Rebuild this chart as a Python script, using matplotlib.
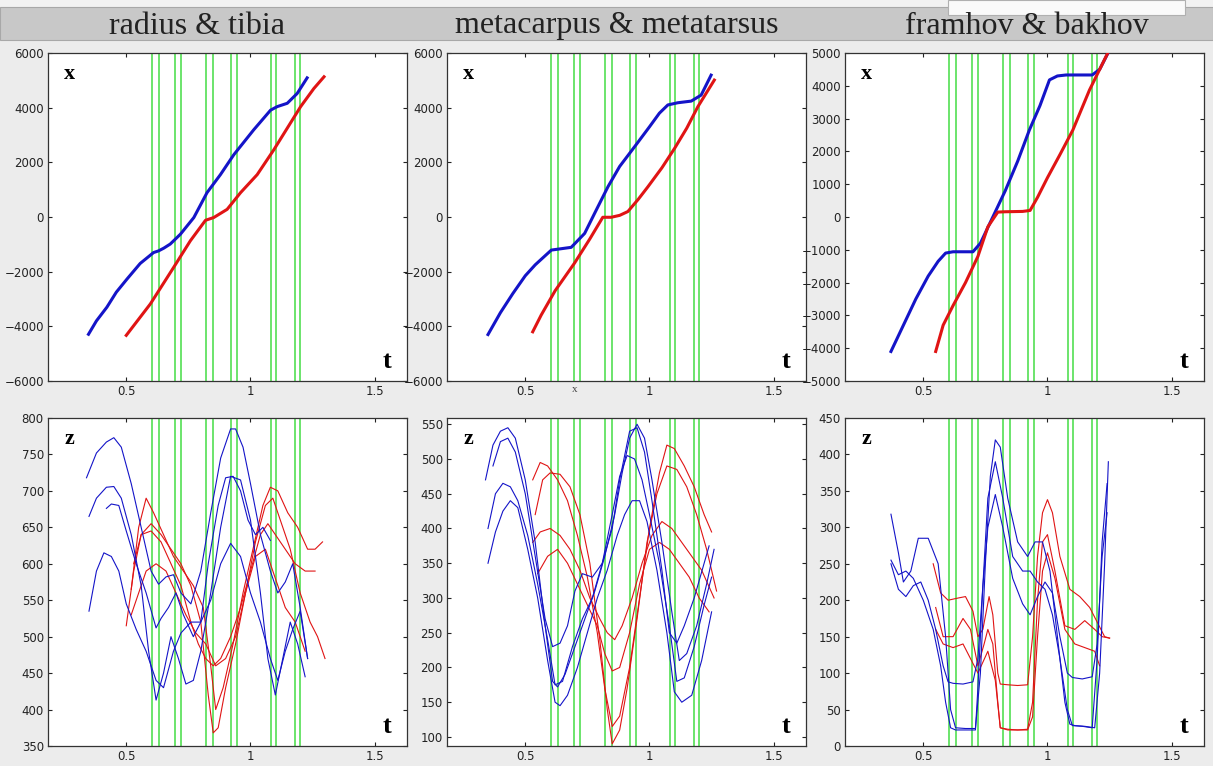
import matplotlib.pyplot as plt
from matplotlib.patches import Rectangle

# ---- data ----
titles = ['radius & tibia', 'metacarpus & metatarsus', 'framhov & bakhov']

# green event markers (t)
events = [0.605, 0.63, 0.695, 0.72, 0.82, 0.85, 0.922, 0.945, 1.082, 1.104, 1.178, 1.20]

# top row: x vs t
x1_blue_t = [0.348, 0.38, 0.422, 0.46, 0.503, 0.556, 0.61, 0.63, 0.651, 0.677, 0.718, 0.772,
             0.825, 0.879, 0.933, 1.013, 1.081, 1.108, 1.148, 1.188, 1.228]
x1_blue_x = [-4290, -3800, -3300, -2750, -2270, -1700, -1300, -1240, -1140, -990, -630, -20,
             890, 1550, 2280, 3190, 3910, 4040, 4160, 4520, 5090]
x1_red_t = [0.50, 0.597, 0.691, 0.758, 0.819, 0.852, 0.906, 0.96, 1.027, 1.094, 1.148, 1.202, 1.255, 1.296]
x1_red_x = [-4330, -3180, -1840, -870, -120, -20, 280, 890, 1550, 2460, 3250, 4040, 4700, 5130]

x2_blue_t = [0.35, 0.40, 0.45, 0.50, 0.54, 0.564, 0.605, 0.645, 0.685, 0.739, 0.78, 0.833,
             0.88, 0.94, 1.00, 1.04, 1.074, 1.114, 1.168, 1.208, 1.248]
x2_blue_x = [-4300, -3500, -2800, -2150, -1750, -1550, -1210, -1160, -1110, -600, 150, 1110,
             1850, 2570, 3300, 3800, 4100, 4180, 4240, 4460, 5190]
x2_red_t = [0.53, 0.564, 0.62, 0.698, 0.76, 0.812, 0.846, 0.88, 0.913, 0.955, 0.994, 1.05,
            1.101, 1.15, 1.195, 1.261]
x2_red_x = [-4200, -3590, -2700, -1690, -800, -10, -10, 60, 200, 650, 1110, 1800,
            2510, 3250, 4040, 5010]

x3_blue_t = [0.37, 0.42, 0.47, 0.52, 0.56, 0.59, 0.62, 0.70, 0.73, 0.78, 0.83, 0.88,
             0.927, 0.97, 1.008, 1.04, 1.075, 1.12, 1.18, 1.21, 1.243]
x3_blue_x = [-4100, -3300, -2500, -1800, -1350, -1100, -1060, -1060, -800, 0, 800, 1700,
             2650, 3400, 4180, 4300, 4330, 4330, 4330, 4500, 4990]
x3_red_t = [0.55, 0.58, 0.62, 0.67, 0.72, 0.76, 0.80, 0.83, 0.90, 0.93, 0.96, 1.00,
            1.05, 1.102, 1.169, 1.242]
x3_red_x = [-4100, -3300, -2700, -2000, -1200, -300, 150, 160, 170, 200, 600, 1200,
            1900, 2650, 3870, 4990]

# bottom row: z vs t (blue = fore limb, red = hind limb)
z1_blue = [
    ([0.34, 0.38, 0.42, 0.45, 0.48, 0.52, 0.56, 0.60, 0.63, 0.66, 0.69, 0.72, 0.76, 0.80,
      0.84, 0.88, 0.92, 0.94, 0.97, 1.00, 1.04, 1.08, 1.11, 1.14, 1.17, 1.20, 1.23],
     [718, 752, 767, 773, 760, 710, 650, 590, 572, 582, 585, 560, 545, 590,
      670, 745, 785, 785, 760, 710, 640, 590, 560, 575, 600, 540, 470]),
    ([0.35, 0.38, 0.42, 0.45, 0.48, 0.52, 0.56, 0.59, 0.62, 0.65, 0.68, 0.71, 0.74, 0.77,
      0.80, 0.84, 0.88, 0.92, 0.96, 1.00, 1.04, 1.07, 1.10, 1.13, 1.16, 1.19, 1.22],
     [665, 690, 705, 706, 690, 640, 570, 480, 413, 450, 500, 470, 435, 440,
      480, 560, 650, 720, 715, 660, 560, 470, 420, 470, 520, 490, 445]),
    ([0.35, 0.38, 0.41, 0.44, 0.47, 0.50, 0.54, 0.58, 0.62, 0.65, 0.69, 0.72, 0.76, 0.80,
      0.84, 0.88, 0.92, 0.96, 1.00, 1.04, 1.08, 1.11, 1.14, 1.17, 1.20, 1.23],
     [535, 590, 615, 610, 590, 545, 510, 480, 440, 430, 480, 505, 520, 520,
      550, 600, 628, 610, 560, 520, 470, 440, 480, 510, 535, 470]),
    ([0.42, 0.44, 0.47, 0.50, 0.54, 0.58, 0.62, 0.64, 0.67, 0.70, 0.73, 0.77, 0.80, 0.83,
      0.87, 0.90, 0.93, 0.96, 0.99, 1.02, 1.05, 1.08],
     [676, 682, 680, 645, 600, 560, 512, 525, 540, 560, 530, 500, 520, 600,
      680, 718, 720, 700, 660, 640, 650, 632]),
]
z1_red = [
    ([0.52, 0.55, 0.58, 0.61, 0.65, 0.69, 0.73, 0.77, 0.81, 0.84, 0.86, 0.89, 0.93, 0.97,
      1.01, 1.05, 1.08, 1.11, 1.15, 1.19, 1.23, 1.26, 1.29],
     [565, 650, 690, 670, 640, 610, 590, 570, 540, 460, 400, 430, 490, 560,
      620, 680, 705, 700, 670, 650, 620, 620, 630]),
    ([0.50, 0.53, 0.56, 0.60, 0.64, 0.68, 0.72, 0.76, 0.80, 0.83, 0.85, 0.87, 0.90, 0.94,
      0.98, 1.02, 1.06, 1.09, 1.12, 1.16, 1.20, 1.24, 1.27, 1.30],
     [515, 590, 640, 655, 640, 620, 600, 570, 520, 420, 368, 375, 430, 490,
      560, 630, 680, 690, 660, 620, 560, 520, 500, 470]),
    ([0.53, 0.56, 0.60, 0.64, 0.68, 0.72, 0.76, 0.79, 0.82, 0.85, 0.88, 0.92, 0.96, 1.00,
      1.04, 1.07, 1.10, 1.14, 1.18, 1.22, 1.26],
     [600, 640, 645, 630, 600, 570, 520, 490, 470, 460, 470, 500, 540, 590,
      640, 655, 640, 620, 600, 590, 590]),
    ([0.52, 0.55, 0.58, 0.62, 0.66, 0.70, 0.74, 0.78, 0.82, 0.86, 0.90, 0.94, 0.98, 1.02,
      1.06, 1.10, 1.14, 1.18, 1.22],
     [530, 560, 590, 600, 590, 560, 530, 505, 490, 460, 470, 500, 560, 610,
      620, 580, 540, 520, 480]),
]

z2_blue = [
    ([0.34, 0.37, 0.40, 0.43, 0.46, 0.50, 0.54, 0.58, 0.61, 0.63, 0.66, 0.70, 0.74, 0.78,
      0.82, 0.86, 0.89, 0.92, 0.95, 0.98, 1.01, 1.05, 1.09, 1.12, 1.15, 1.19, 1.23, 1.26],
     [470, 520, 540, 545, 530, 470, 380, 260, 180, 172, 190, 230, 270, 310,
      360, 420, 480, 530, 550, 530, 470, 380, 280, 210, 220, 260, 320, 370]),
    ([0.35, 0.38, 0.41, 0.44, 0.47, 0.51, 0.55, 0.59, 0.62, 0.65, 0.69, 0.73, 0.77, 0.81,
      0.85, 0.88, 0.91, 0.94, 0.97, 1.00, 1.04, 1.08, 1.11, 1.14, 1.18, 1.22, 1.25],
     [400, 450, 465, 460, 440, 390, 320, 240, 175, 180, 230, 270, 300, 350,
      420, 475, 505, 500, 470, 420, 350, 260, 180, 185, 230, 290, 330]),
    ([0.35, 0.38, 0.41, 0.44, 0.47, 0.51, 0.55, 0.59, 0.62, 0.64, 0.67, 0.71, 0.75, 0.79,
      0.83, 0.87, 0.90, 0.93, 0.96, 0.99, 1.03, 1.07, 1.10, 1.13, 1.17, 1.21, 1.25],
     [350, 395, 425, 440, 430, 370, 300, 210, 150, 145, 160, 200, 250, 300,
      340, 390, 420, 440, 440, 410, 340, 250, 165, 150, 160, 210, 280]),
    ([0.37, 0.40, 0.43, 0.46, 0.50, 0.54, 0.58, 0.61, 0.64, 0.67, 0.70, 0.73, 0.77, 0.81,
      0.85, 0.88, 0.92, 0.95, 0.98, 1.01, 1.05, 1.08, 1.11, 1.14, 1.18, 1.22, 1.24],
     [490, 525, 530, 510, 450, 360, 270, 230, 235, 260, 310, 335, 330, 350,
      400, 470, 540, 545, 510, 440, 340, 250, 235, 260, 300, 350, 375]),
]
z2_red = [
    ([0.53, 0.56, 0.59, 0.63, 0.67, 0.71, 0.75, 0.79, 0.82, 0.85, 0.88, 0.92, 0.96, 1.00,
      1.04, 1.07, 1.10, 1.14, 1.18, 1.22, 1.25],
     [470, 495, 490, 470, 440, 390, 330, 250, 170, 115, 130, 200, 300, 400,
      480, 520, 515, 490, 460, 420, 395]),
    ([0.54, 0.57, 0.60, 0.64, 0.68, 0.72, 0.76, 0.80, 0.83, 0.85, 0.88, 0.91, 0.95, 0.99,
      1.03, 1.07, 1.11, 1.15, 1.19, 1.23, 1.27],
     [420, 470, 480, 478, 460, 420, 350, 240, 140, 90, 110, 170, 270, 380,
      450, 490, 485, 460, 420, 370, 310]),
    ([0.53, 0.56, 0.60, 0.64, 0.68, 0.72, 0.76, 0.80, 0.83, 0.86, 0.89, 0.93, 0.97, 1.01,
      1.05, 1.09, 1.13, 1.17, 1.21, 1.26],
     [380, 395, 400, 390, 370, 340, 300, 270, 250, 240, 260, 300, 350, 390,
      410, 400, 380, 360, 340, 300]),
    ([0.55, 0.59, 0.63, 0.67, 0.71, 0.75, 0.79, 0.82, 0.85, 0.88, 0.92, 0.96, 1.00, 1.04,
      1.08, 1.12, 1.16, 1.20, 1.24],
     [335, 360, 370, 350, 320, 290, 260, 220, 195, 200, 250, 320, 370, 380,
      370, 350, 330, 300, 280]),
]

z3_blue = [
    ([0.37, 0.40, 0.42, 0.45, 0.48, 0.52, 0.56, 0.59, 0.61, 0.63, 0.67, 0.71, 0.73, 0.75,
      0.77, 0.79, 0.81, 0.84, 0.88, 0.92, 0.95, 0.98, 1.01, 1.04, 1.07, 1.09, 1.11, 1.15,
      1.19, 1.21, 1.23, 1.245],
     [318, 265, 225, 240, 285, 285, 250, 150, 50, 25, 24, 24, 100, 250,
      370, 420, 410, 340, 280, 260, 280, 280, 240, 150, 60, 30, 28, 27,
      25, 100, 250, 390]),
    ([0.37, 0.40, 0.43, 0.46, 0.50, 0.54, 0.57, 0.59, 0.61, 0.63, 0.67, 0.71, 0.72, 0.74,
      0.76, 0.79, 0.82, 0.86, 0.90, 0.93, 0.96, 0.99, 1.02, 1.05, 1.08, 1.10, 1.14, 1.18,
      1.20, 1.22, 1.24],
     [255, 235, 240, 230, 200, 160, 110, 60, 25, 22, 22, 22, 80, 220,
      340, 390, 340, 260, 240, 240, 225, 215, 180, 120, 50, 28, 27, 25,
      120, 280, 360]),
    ([0.37, 0.40, 0.43, 0.46, 0.49, 0.52, 0.55, 0.58, 0.60, 0.62, 0.66, 0.70, 0.72, 0.74,
      0.76, 0.79, 0.82, 0.86, 0.90, 0.93, 0.96, 0.99, 1.02, 1.05, 1.08, 1.10, 1.14, 1.18,
      1.20, 1.22, 1.24],
     [250, 215, 205, 220, 225, 200, 160, 110, 88, 86, 85, 88, 120, 220,
      300, 345, 300, 230, 195, 180, 205, 225, 210, 150, 100, 94, 92, 95,
      140, 260, 320]),
]
z3_red = [
    ([0.54, 0.57, 0.60, 0.64, 0.67, 0.70, 0.72, 0.74, 0.765, 0.78, 0.80, 0.81, 0.84, 0.88,
      0.92, 0.94, 0.96, 0.98, 1.00, 1.02, 1.05, 1.09, 1.13, 1.17, 1.20, 1.23, 1.25],
     [250, 210, 200, 203, 205, 185, 150, 160, 205, 180, 100, 85, 84, 83,
      84, 150, 260, 320, 338, 320, 260, 215, 205, 190, 170, 150, 148]),
    ([0.55, 0.58, 0.62, 0.66, 0.69, 0.72, 0.745, 0.76, 0.78, 0.80, 0.81, 0.84, 0.88, 0.92,
      0.94, 0.96, 0.98, 1.00, 1.03, 1.07, 1.11, 1.15, 1.19, 1.22, 1.25],
     [190, 150, 150, 175, 160, 110, 140, 160, 140, 60, 25, 23, 22, 23,
      60, 200, 280, 290, 240, 165, 160, 172, 160, 150, 148]),
    ([0.55, 0.58, 0.62, 0.66, 0.69, 0.72, 0.74, 0.76, 0.79, 0.81, 0.84, 0.88, 0.92, 0.94,
      0.96, 0.98, 1.00, 1.03, 1.07, 1.11, 1.15, 1.19, 1.21],
     [160, 140, 135, 140, 120, 100, 115, 130, 90, 25, 22, 22, 22, 40,
      150, 240, 265, 230, 160, 140, 135, 130, 110]),
]

top_data = [((x1_blue_t, x1_blue_x), (x1_red_t, x1_red_x)),
            ((x2_blue_t, x2_blue_x), (x2_red_t, x2_red_x)),
            ((x3_blue_t, x3_blue_x), (x3_red_t, x3_red_x))]
bottom_data = [(z1_blue, z1_red), (z2_blue, z2_red), (z3_blue, z3_red)]

top_ylim = [(-6000, 6000), (-6000, 6000), (-5000, 5000)]
top_yticks = [range(-6000, 6001, 2000), range(-6000, 6001, 2000), range(-5000, 5001, 1000)]
bot_ylim = [(350, 800), (87, 559), (0, 450)]
bot_yticks = [range(350, 801, 50), range(100, 551, 50), range(0, 451, 50)]

BLUE = '#1414c8'
RED = '#e01414'
GREEN = '#44dd44'

W, H = 1213, 766
fig = plt.figure(figsize=(W / 100, H / 100), dpi=100, facecolor='#ececec')

# title strip and the little window box at the top
fig.patches.append(Rectangle((0, 1 - 7 / H), 1, 7 / H, transform=fig.transFigure,
                             facecolor='#f2f2f2', edgecolor='none', zorder=0))
fig.patches.append(Rectangle((0, 1 - 40 / H), 1, 33 / H, transform=fig.transFigure,
                             facecolor='#c8c8c8', edgecolor='#a8a8a8', lw=0.8, zorder=0))
fig.patches.append(Rectangle((948 / W, 1 - 15 / H), 237 / W, 15 / H, transform=fig.transFigure,
                             facecolor='#fafafa', edgecolor='#b0b0b0', lw=0.8, zorder=1))

lefts = [48, 447, 845]
title_cx = [197, 617, 1027]
for i in range(3):
    fig.text(title_cx[i] / W, 1 - 26 / H, titles[i], ha='center', va='center',
             fontsize=23, family='Liberation Serif', color='#222222')


def style(ax, ylim, yticks, letter):
    ax.set_xlim(0.185, 1.63)
    ax.set_ylim(*ylim)
    ax.set_xticks([0.5, 1, 1.5])
    ax.set_xticklabels(['0.5', '1', '1.5'])
    ax.set_yticks(list(yticks))
    ax.tick_params(direction='in', length=3, width=0.8, top=True, right=True,
                   labelsize=8.5, pad=3, colors='#222222')
    for lab in ax.get_xticklabels() + ax.get_yticklabels():
        lab.set_family('DejaVu Sans')
    for sp in ax.spines.values():
        sp.set_linewidth(0.9)
        sp.set_color('#333333')
    for e in events:
        ax.axvline(e, color=GREEN, lw=1.1, zorder=1)
    ax.text(0.045, 0.935, letter, transform=ax.transAxes, fontsize=16, fontweight='bold',
            family='Liberation Serif', va='center', ha='left')
    ax.text(0.945, 0.06, 't', transform=ax.transAxes, fontsize=19, fontweight='bold',
            family='Liberation Serif', va='center', ha='center')


for i in range(3):
    ax = fig.add_axes([lefts[i] / W, 1 - 381 / H, 359 / W, 328 / H])
    style(ax, top_ylim[i], top_yticks[i], 'x')
    (bt, bx), (rt, rx) = top_data[i]
    ax.plot(bt, bx, color=BLUE, lw=2.2, zorder=3)
    ax.plot(rt, rx, color=RED, lw=2.2, zorder=3)

    ax = fig.add_axes([lefts[i] / W, 1 - 746 / H, 359 / W, 328 / H])
    style(ax, bot_ylim[i], bot_yticks[i], 'z')
    blues, reds = bottom_data[i]
    for t, z in reds:
        ax.plot(t, z, color=RED, lw=0.8, zorder=3)
    for t, z in blues:
        ax.plot(t, z, color=BLUE, lw=0.8, zorder=3)

# stray axis label under the middle top panel
fig.text(575 / W, 1 - 389 / H, 'x', fontsize=8, family='Liberation Serif',
         color='#444444', ha='center', va='center')

fig.savefig('out.png', dpi=100, facecolor=fig.get_facecolor())
